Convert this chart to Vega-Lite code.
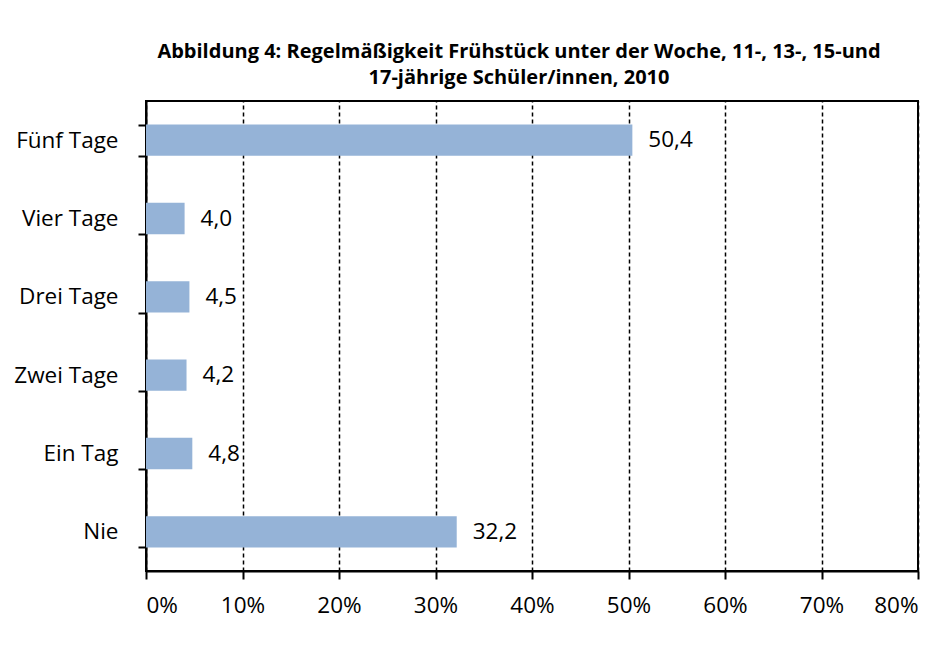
{
  "$schema": "https://vega.github.io/schema/vega-lite/v6.json",
  "autosize": {"type": "none"},
  "width": 772,
  "height": 470,
  "padding": {"left": 146, "top": 101, "right": 26, "bottom": 74},
  "background": "white",
  "config": {
    "locale": {"number": {"decimal": ",", "thousands": ".", "grouping": [3], "currency": ["", " €"]}},
    "font": "Open Sans",
    "view": {"stroke": "black", "strokeWidth": 2},
    "axis": {"labelFont": "Open Sans", "labelFontSize": 22.5, "labelColor": "black", "domainColor": "black", "domainWidth": 2, "tickColor": "black", "tickWidth": 2, "tickSize": 8, "title": null}
  },
  "title": {
    "text": ["Abbildung 4: Regelmäßigkeit Frühstück unter der Woche, 11-, 13-, 15-und", "17-jährige Schüler/innen, 2010"],
    "anchor": "middle",
    "frame": "group",
    "font": "Open Sans",
    "fontSize": 20,
    "fontWeight": "bold",
    "color": "black",
    "lineHeight": 26,
    "offset": 2,
    "dx": -13
  },
  "data": {
    "values": [
      {"kategorie": "Fünf Tage", "anteil": 50.4},
      {"kategorie": "Vier Tage", "anteil": 4.0},
      {"kategorie": "Drei Tage", "anteil": 4.5},
      {"kategorie": "Zwei Tage", "anteil": 4.2},
      {"kategorie": "Ein Tag", "anteil": 4.8},
      {"kategorie": "Nie", "anteil": 32.2}
    ]
  },
  "encoding": {
    "y": {
      "field": "kategorie",
      "type": "nominal",
      "sort": ["Fünf Tage", "Vier Tage", "Drei Tage", "Zwei Tage", "Ein Tag", "Nie"],
      "scale": {"paddingInner": 0.6, "paddingOuter": 0.3},
      "axis": {"tickBand": "extent", "labelPadding": 20, "grid": false}
    }
  },
  "layer": [
    {
      "mark": {"type": "bar", "color": "#95B3D7"},
      "encoding": {
        "x": {
          "field": "anteil",
          "type": "quantitative",
          "scale": {"domain": [0, 80], "nice": false},
          "axis": {
            "values": [0, 10, 20, 30, 40, 50, 60, 70, 80],
            "labelExpr": "datum.value + '%'",
            "labelPadding": 15,
            "grid": true,
            "gridColor": "black",
            "gridDash": [4, 3],
            "gridWidth": 1.5
          }
        }
      }
    },
    {
      "mark": {"type": "text", "align": "left", "baseline": "middle", "dx": 16, "fontSize": 22.5, "font": "Open Sans", "color": "black"},
      "encoding": {
        "x": {"field": "anteil", "type": "quantitative"},
        "text": {"field": "anteil", "type": "quantitative", "format": ".1f"}
      }
    }
  ]
}
